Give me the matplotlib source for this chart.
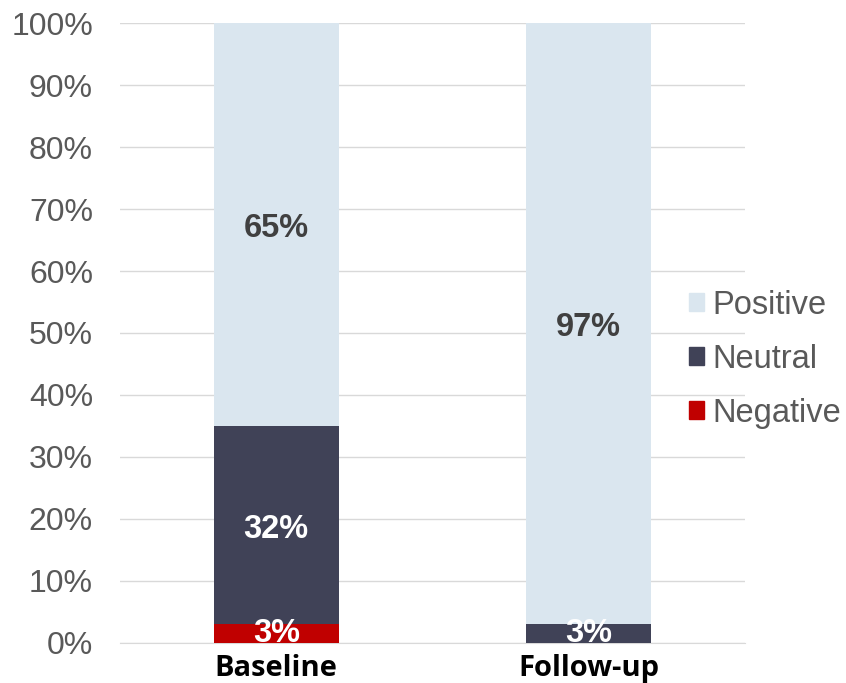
import matplotlib
matplotlib.use("Agg")
import matplotlib.pyplot as plt
from matplotlib.patches import Patch
import numpy as np

categories = ["Baseline", "Follow-up"]
negative = [3, 0]
neutral = [32, 3]
positive = [65, 97]
series_names = ["Negative", "Neutral", "Positive"]
colors = ["#C00000", "#404257", "#DAE6EF"]
label_colors = ["white", "white", "#404040"]
yticks = [0, 10, 20, 30, 40, 50, 60, 70, 80, 90, 100]

fig = plt.figure(figsize=(8.46, 6.83), dpi=100)
ax = fig.add_axes([0.1418, 0.0586, 0.7388, 0.9077])

x = np.arange(len(categories))
bottom = np.zeros(len(categories))
for vals, name, col, lc in zip([negative, neutral, positive], series_names, colors, label_colors):
    vals = np.array(vals, dtype=float)
    ax.bar(x, vals, 0.4, bottom=bottom, color=col, label=name, zorder=2)
    for xi, v, b in zip(x, vals, bottom):
        if v > 0:
            dy = -3 if v >= 10 else 0
            ax.annotate(f"{int(v)}%", (xi, b + v / 2), xytext=(0, dy),
                        textcoords="offset points", ha="center", va="center",
                        fontsize=23.5, fontweight="bold", color=lc,
                        family=["Liberation Sans", "DejaVu Sans"],
                        annotation_clip=False, clip_on=True, zorder=3)
    bottom += vals

ax.set_xlim(-0.5, 1.5)
ax.set_ylim(0, 100)
ax.set_yticks(yticks)
ax.set_yticklabels([f"{t}%" for t in yticks], fontsize=23, color="#595959",
                   family=["Liberation Sans", "DejaVu Sans"])
ax.set_xticks(x)
ax.set_xticklabels(categories, fontsize=21, fontweight="bold", color="black",
                   family=["Open Sans", "DejaVu Sans"])
ax.tick_params(axis="both", length=0)
ax.tick_params(axis="y", pad=19.5)
ax.tick_params(axis="x", pad=8)
ax.grid(axis="y", color="#D9D9D9", linewidth=1, zorder=0)
for s in ["top", "right", "left"]:
    ax.spines[s].set_visible(False)
ax.spines["bottom"].set_color("#D9D9D9")
ax.spines["bottom"].set_zorder(1)

handles = [Patch(color=colors[2], label="Positive"),
           Patch(color=colors[1], label="Neutral"),
           Patch(color=colors[0], label="Negative")]
leg = fig.legend(handles=handles, loc="center left", bbox_to_anchor=(0.8025, 0.474),
                 frameon=False, handlelength=0.48, handleheight=0.48,
                 handletextpad=0.25, labelspacing=0.7, borderaxespad=0, borderpad=0.3,
                 prop={"family": ["Liberation Sans", "DejaVu Sans"], "size": 23.5})
for t in leg.get_texts():
    t.set_color("#595959")

fig.savefig("out.png", dpi=100)
